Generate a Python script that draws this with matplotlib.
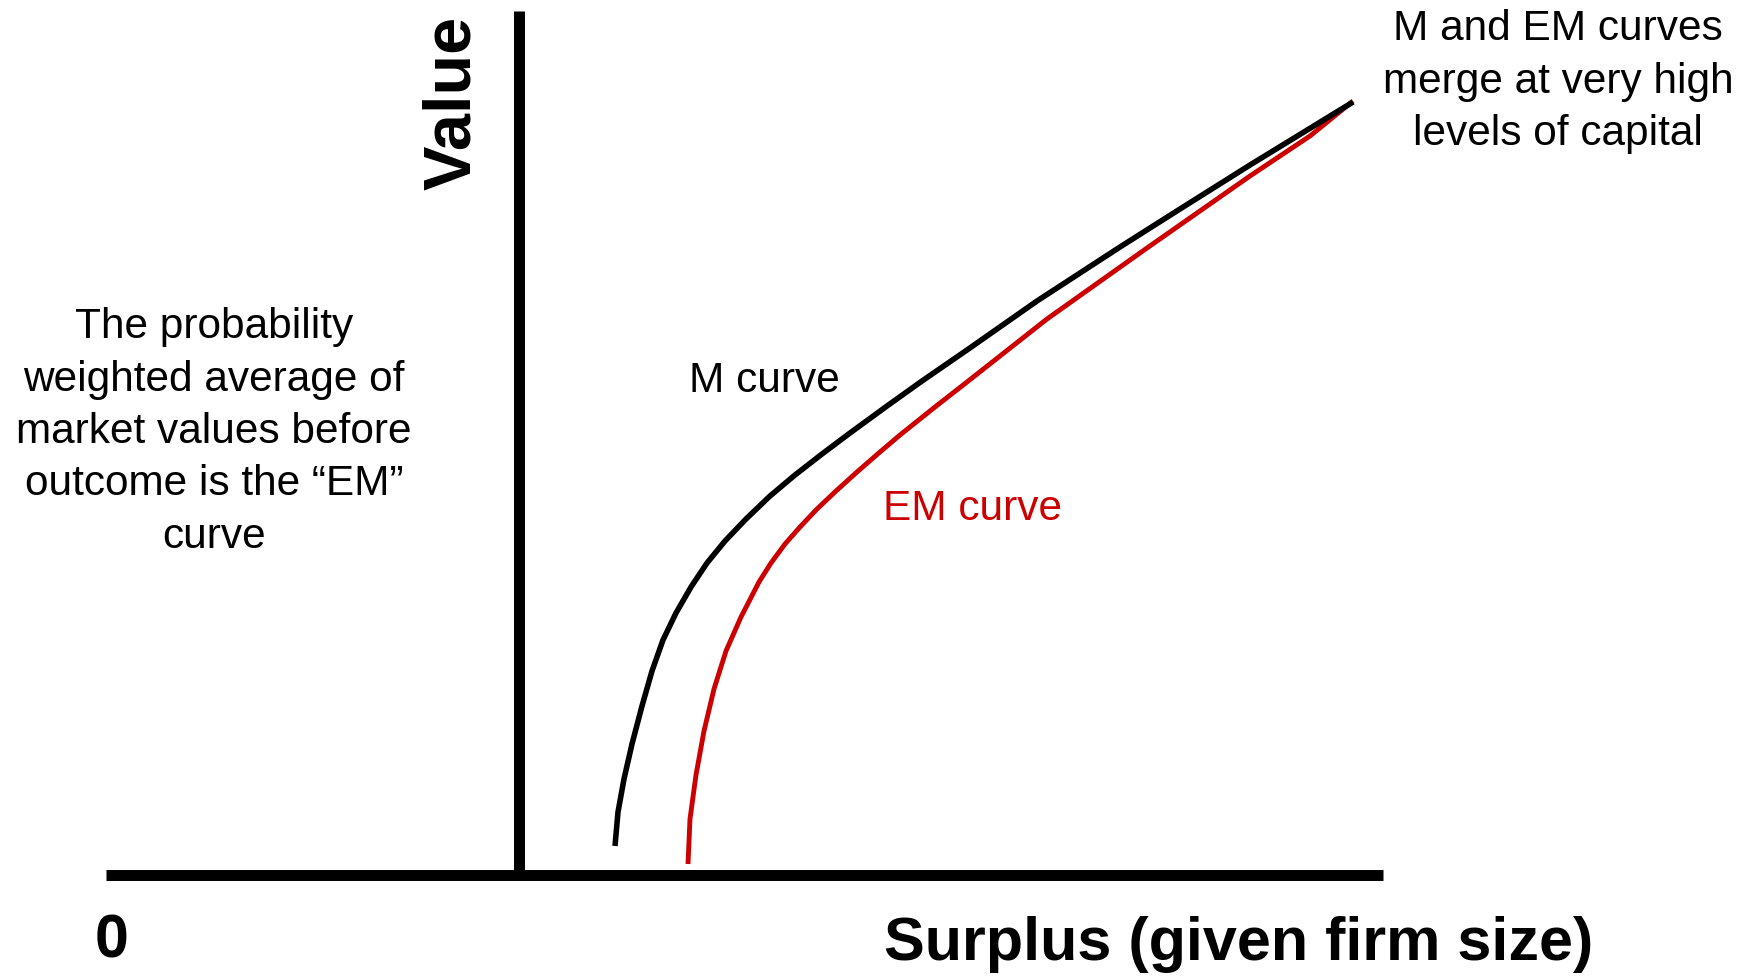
import matplotlib
matplotlib.use("Agg")
import matplotlib.pyplot as plt

# ---- data (surplus, value), origin at axis crossing ----
m_surplus = [0.96, 0.99, 1.05, 1.13, 1.23, 1.33, 1.44, 1.57, 1.72, 1.88, 2.06, 2.27, 2.51,
             2.76, 3.03, 3.31, 3.68, 4.03, 4.48, 5.18, 6.01, 6.61, 7.31, 8.34]
m_value   = [0.29, 0.63, 0.96, 1.31, 1.69, 2.04, 2.35, 2.62, 2.88, 3.12, 3.34, 3.56, 3.79,
             4.00, 4.21, 4.42, 4.69, 4.94, 5.25, 5.74, 6.28, 6.66, 7.10, 7.73]

em_surplus = [1.69, 1.71, 1.77, 1.85, 1.95, 2.07, 2.22, 2.40, 2.52, 2.66, 2.81, 2.98, 3.17,
              3.38, 3.61, 3.81, 4.16, 4.48, 5.28, 6.28, 7.31, 7.91, 8.34]
em_value   = [0.11, 0.56, 1.00, 1.44, 1.86, 2.24, 2.58, 2.93, 3.12, 3.31, 3.48, 3.66, 3.84,
              4.03, 4.23, 4.40, 4.68, 4.93, 5.56, 6.27, 6.99, 7.39, 7.74]

x_axis_range = [-4.13, 8.64]
y_axis_range = [0.0, 8.64]

x_label = "Surplus (given firm size)"
y_label = "Value"
zero_label = "0"
m_label = "M curve"
em_label = "EM curve"
left_note = "The probability\nweighted average of\nmarket values before\noutcome is the \u201cEM\u201d\ncurve"
right_note = "M and EM curves\nmerge at very high\nlevels of capital"

plt.rcParams['font.family'] = ['Liberation Sans', 'DejaVu Sans']

fig = plt.figure(figsize=(17.46, 9.78), dpi=100)
ax = fig.add_axes([0, 0, 1, 1])
ax.set_xlim(-5.19, 12.27)
ax.set_ylim(-1.02, 8.76)
ax.axis('off')

# axes lines
ax.plot(x_axis_range, [0, 0], color='black', lw=7.9, solid_capstyle='butt')
ax.plot([0, 0], y_axis_range, color='black', lw=7.9, solid_capstyle='butt')

# curves
ax.plot(em_surplus, em_value, color='#CC0000', lw=3.5, solid_capstyle='butt', solid_joinstyle='round')
ax.plot(m_surplus, m_value, color='black', lw=4.0, solid_capstyle='butt', solid_joinstyle='round')

# labels
ax.text(-0.66, 7.73, y_label, rotation=90, fontsize=48, fontweight='bold',
        ha='center', va='center')
ax.text(7.20, -0.84, x_label, fontsize=44, fontweight='bold', ha='center', va='baseline')
ax.text(-4.075, -0.82, zero_label, fontsize=44, fontweight='bold', ha='center', va='baseline')

ax.text(1.70, 4.84, m_label, fontsize=30.5, ha='left', va='baseline', color='black')
ax.text(3.64, 3.56, em_label, fontsize=30.5, ha='left', va='baseline', color='#CC0000')

ax.text(-3.05, 4.44, left_note, fontsize=30.5, ha='center', va='center',
        multialignment='center', linespacing=1.40)
ax.text(10.39, 7.945, right_note, fontsize=30.5, ha='center', va='center',
        multialignment='center', linespacing=1.40)

fig.savefig("out.png", dpi=100)
